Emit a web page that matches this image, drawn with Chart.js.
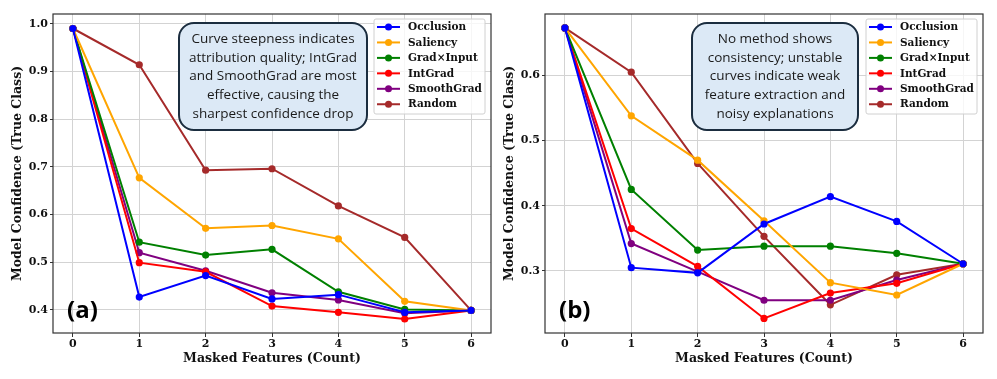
<!DOCTYPE html>
<html lang="en">
<head>
  <meta charset="UTF-8" />
  <title>Masked Features vs Model Confidence</title>
  <script src="https://cdn.jsdelivr.net/npm/chart.js"></script>
  <style>
    html, body {
      margin: 0;
      padding: 0;
      background: #ffffff;
      width: 997px;
      height: 379px;
      overflow: hidden;
    }
    .panel {
      position: absolute;
      top: 0;
      height: 379px;
    }
    #panelA { left: 0; width: 497px; }
    #panelB { left: 497px; width: 500px; }
  </style>
</head>
<body>

<div class="panel" id="panelA"><canvas id="chartA" width="497" height="379"></canvas></div>
<div class="panel" id="panelB"><canvas id="chartB" width="500" height="379"></canvas></div>

<script>
  // ---- data ----
  const maskedCounts = [0, 1, 2, 3, 4, 5, 6];
  const methods = ['Occlusion', 'Saliency', 'Grad\u00d7Input', 'IntGrad', 'SmoothGrad', 'Random'];
  const methodColors = ['#0000ff', '#ffa500', '#008000', '#ff0000', '#800080', '#a52a2a'];

  // panel (a)
  const occlusionA  = [0.990, 0.427, 0.472, 0.423, 0.432, 0.395, 0.399];
  const saliencyA   = [0.990, 0.677, 0.571, 0.577, 0.549, 0.418, 0.399];
  const gradInputA  = [0.990, 0.542, 0.515, 0.527, 0.438, 0.401, 0.399];
  const intGradA    = [0.990, 0.499, 0.480, 0.408, 0.395, 0.381, 0.399];
  const smoothGradA = [0.990, 0.520, 0.482, 0.436, 0.421, 0.393, 0.399];
  const randomA     = [0.990, 0.914, 0.693, 0.696, 0.618, 0.552, 0.399];
  const yTicksA = [0.4, 0.5, 0.6, 0.7, 0.8, 0.9, 1.0];

  // panel (b)
  const occlusionB  = [0.673, 0.305, 0.297, 0.372, 0.414, 0.376, 0.311];
  const saliencyB   = [0.673, 0.538, 0.470, 0.377, 0.282, 0.263, 0.311];
  const gradInputB  = [0.673, 0.425, 0.332, 0.338, 0.338, 0.327, 0.311];
  const intGradB    = [0.673, 0.365, 0.307, 0.227, 0.266, 0.281, 0.311];
  const smoothGradB = [0.673, 0.342, 0.299, 0.255, 0.255, 0.286, 0.311];
  const randomB     = [0.673, 0.605, 0.465, 0.353, 0.248, 0.294, 0.311];
  const yTicksB = [0.3, 0.4, 0.5, 0.6];

  const noteA = ['Curve steepness indicates', 'attribution quality; IntGrad',
                 'and SmoothGrad are most', 'effective, causing the',
                 'sharpest confidence drop'];
  const noteB = ['No method shows', 'consistency; unstable',
                 'curves indicate weak', 'feature extraction and',
                 'noisy explanations'];

  const serifBold = "'DejaVu Serif', serif";

  function roundRect(ctx, x, y, w, h, r) {
    ctx.beginPath();
    ctx.moveTo(x + r, y);
    ctx.lineTo(x + w - r, y);
    ctx.arcTo(x + w, y, x + w, y + r, r);
    ctx.lineTo(x + w, y + h - r);
    ctx.arcTo(x + w, y + h, x + w - r, y + h, r);
    ctx.lineTo(x + r, y + h);
    ctx.arcTo(x, y + h, x, y + h - r, r);
    ctx.lineTo(x, y + r);
    ctx.arcTo(x, y, x + r, y, r);
    ctx.closePath();
  }

  // draws the frame, the note box, the inside legend and the panel letter
  const decorPlugin = {
    id: 'decor',
    afterDraw(chart) {
      const o = chart.options.plugins.decor;
      const ctx = chart.ctx;
      const a = chart.chartArea;
      ctx.save();

      // axes frame (all four spines)
      ctx.strokeStyle = '#333333';
      ctx.lineWidth = 1.2;
      ctx.strokeRect(a.left, a.top, a.right - a.left, a.bottom - a.top);

      // note box
      const b = o.box;
      roundRect(ctx, b.x, b.y, b.w, b.h, 15);
      ctx.fillStyle = '#dce9f6';
      ctx.fill();
      ctx.strokeStyle = '#1b2d3f';
      ctx.lineWidth = 2;
      ctx.stroke();
      ctx.fillStyle = '#1a1a1a';
      ctx.font = "13.5px 'Open Sans', sans-serif";
      ctx.textAlign = 'center';
      ctx.textBaseline = 'middle';
      const cx = b.x + b.w / 2;
      const lh = 18.7;
      const y0 = b.y + b.h / 2 - lh * (o.note.length - 1) / 2;
      o.note.forEach((line, i) => ctx.fillText(line, cx, y0 + i * lh));

      // legend
      const lw = 111, lhgt = 95;
      const lx = a.right - 6 - lw, ly = a.top + 5;
      roundRect(ctx, lx, ly, lw, lhgt, 2);
      ctx.fillStyle = 'rgba(255,255,255,0.8)';
      ctx.fill();
      ctx.strokeStyle = '#d0d0d0';
      ctx.lineWidth = 1;
      ctx.stroke();
      ctx.font = "bold 10.5px " + serifBold;
      ctx.textAlign = 'left';
      chart.data.datasets.forEach((ds, i) => {
        const ry = ly + 8 + i * 15.45;
        ctx.strokeStyle = ds.borderColor;
        ctx.lineWidth = 2;
        ctx.beginPath();
        ctx.moveTo(lx + 3, ry);
        ctx.lineTo(lx + 26, ry);
        ctx.stroke();
        ctx.fillStyle = ds.borderColor;
        ctx.beginPath();
        ctx.arc(lx + 14.5, ry, 3.5, 0, Math.PI * 2);
        ctx.fill();
        ctx.fillStyle = '#111111';
        ctx.fillText(ds.label, lx + 34, ry + 0.5);
      });

      // panel letter
      ctx.font = "bold 24px 'Open Sans', sans-serif";
      ctx.fillStyle = '#000000';
      ctx.textAlign = 'left';
      ctx.fillText(o.letter, a.left + 14, a.bottom - 22);

      ctx.restore();
    }
  };

  function makeChart(id, series, yTicks, yMin, yMax, yWidth, titlePad, padRight, note, box, letter) {
    const datasets = series.map((vals, i) => ({
      label: methods[i],
      data: maskedCounts.map((x, j) => ({ x: x, y: vals[j] })),
      borderColor: methodColors[i],
      backgroundColor: methodColors[i],
      borderWidth: 2,
      pointRadius: 3.6,
      pointHoverRadius: 3.6,
      pointBorderWidth: 0,
      tension: 0
    }));

    return new Chart(document.getElementById(id), {
      type: 'line',
      data: { datasets: datasets },
      options: {
        responsive: false,
        animation: false,
        layout: { padding: { top: 14, right: padRight, left: 0, bottom: 0 } },
        plugins: {
          legend: { display: false },
          tooltip: { enabled: false },
          decor: { note: note, box: box, letter: letter }
        },
        scales: {
          x: {
            type: 'linear',
            min: -0.3,
            max: 6.3,
            afterBuildTicks: (s) => { s.ticks = maskedCounts.map(v => ({ value: v })); },
            afterFit: (s) => { s.height = 46; },
            grid: { color: '#d3d3d3', lineWidth: 1, tickLength: 4, tickColor: '#333333' },
            border: { display: false },
            ticks: {
              padding: 1,
              color: '#111111',
              font: { family: serifBold, weight: 'bold', size: 11 }
            },
            title: {
              display: true,
              text: 'Masked Features (Count)',
              color: '#111111',
              padding: { top: 0, bottom: 12.5 },
              font: { family: serifBold, weight: 'bold', size: 12.5 }
            }
          },
          y: {
            type: 'linear',
            min: yMin,
            max: yMax,
            afterBuildTicks: (s) => { s.ticks = yTicks.map(v => ({ value: v })); },
            afterFit: (s) => { s.width = yWidth; },
            grid: { color: '#d3d3d3', lineWidth: 1, tickLength: 3, tickColor: '#333333' },
            border: { display: false },
            ticks: {
              padding: 2,
              color: '#111111',
              font: { family: serifBold, weight: 'bold', size: 11 },
              callback: (v) => v.toFixed(1)
            },
            title: {
              display: true,
              text: 'Model Confidence (True Class)',
              color: '#111111',
              padding: { top: titlePad, bottom: 0 },
              font: { family: serifBold, weight: 'bold', size: 12.5 }
            }
          }
        }
      },
      plugins: [decorPlugin]
    });
  }

  makeChart('chartA',
    [occlusionA, saliencyA, gradInputA, intGradA, smoothGradA, randomA],
    yTicksA, 0.3516, 1.0204, 53, 10.5, 6, noteA,
    { x: 179, y: 23, w: 188, h: 107 }, '(a)');

  makeChart('chartB',
    [occlusionB, saliencyB, gradInputB, intGradB, smoothGradB, randomB],
    yTicksB, 0.2047, 0.6943, 48, 5.5, 14, noteB,
    { x: 195, y: 23, w: 166, h: 107 }, '(b)');
</script>

</body>
</html>
